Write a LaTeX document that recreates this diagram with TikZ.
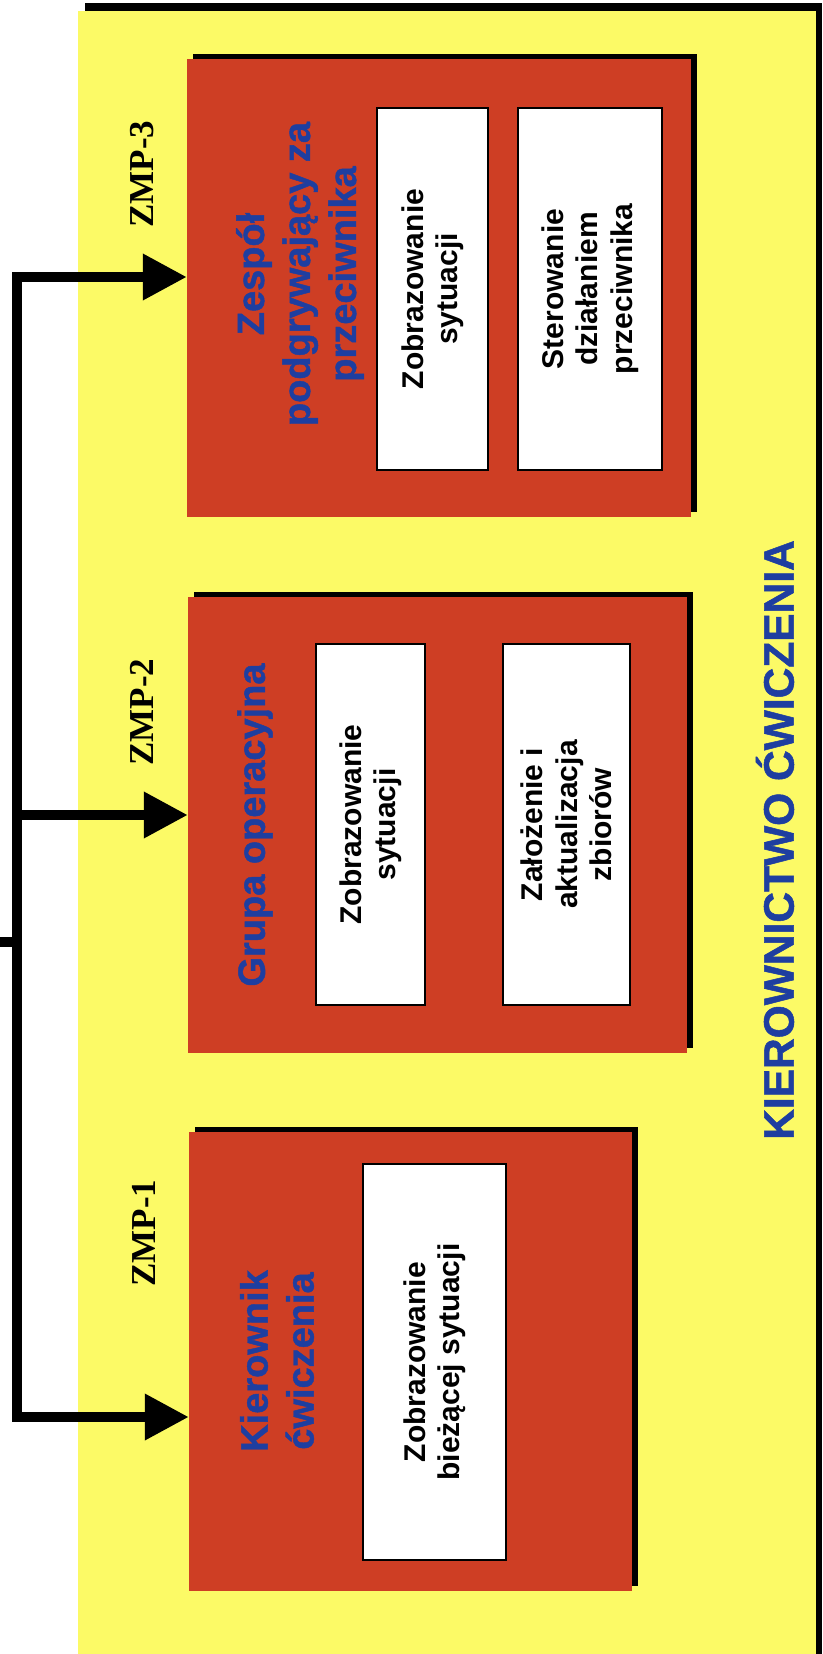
\documentclass[tikz,border=0pt]{standalone}
\usepackage{fontspec}
\setmainfont{Liberation Sans}
\newfontfamily\zmpfont{Liberation Serif}
\newfontfamily\heavyfont[BoldFeatures={FakeBold=1.2}]{Liberation Sans}
\usetikzlibrary{arrows.meta,shadows,calc}
\definecolor{bgyellow}{RGB}{252,250,102}
\definecolor{boxred}{RGB}{206,62,36}
\definecolor{titleblue}{RGB}{30,62,160}
\begin{document}
\begin{tikzpicture}[x=1pt,y=-1pt,
  redbox/.style={fill=boxred, inner sep=0pt,
    general shadow={fill=black, shadow xshift=6pt, shadow yshift=5pt}},
  whitebox/.style={fill=white, draw=black, line width=1.6pt, inner sep=0pt, rotate=90,
    align=center, font=\fontsize{30}{34.5}\selectfont\bfseries},
  titletext/.style={text=titleblue, rotate=90, align=center, inner sep=0pt,
    font=\heavyfont\bfseries\fontsize{38}{46}\selectfont},
  zmp/.style={rotate=90, inner sep=0pt, font=\zmpfont\bfseries\fontsize{35}{40}\selectfont},
  bus/.style={line width=10pt},
  arr/.style={line width=10pt, -{Triangle[length=44pt,width=44pt]}},
  arr2/.style={line width=10pt, {Triangle[length=44pt,width=44pt]}-{Triangle[length=44pt,width=44pt]}},
]
\useasboundingbox (0,0) rectangle (822,1654);
% background and outer frame
\fill[white] (0,0) rectangle (822,1654);
\fill[black] (85,3) rectangle (822,1654);
\fill[bgyellow] (78,11) rectangle (816,1654);

% red boxes
\node[redbox, minimum width=504pt, minimum height=458pt] (box3) at (439,288) {};
\node[redbox, minimum width=499pt, minimum height=456pt] (box2) at (437.5,825) {};
\node[redbox, minimum width=443pt, minimum height=459pt] (box1) at (410.5,1361.5) {};

% titles
\node[titletext] (t3) at (300,274) {Zespół\\podgrywający za\\przeciwnika};
\node[titletext] (t2) at (255,825) {Grupa operacyjna};
\node[titletext] (t1) at (277,1361) {Kierownik\\ćwiczenia};

% white boxes
\node[whitebox, minimum width=362pt, minimum height=111pt] (w31) at (432.5,289) {Zobrazowanie\\sytuacji};
\node[whitebox, minimum width=362pt, minimum height=144pt] (w32) at (590,289) {Sterowanie\\działaniem\\przeciwnika};
\node[whitebox, minimum width=361pt, minimum height=109pt] (w21) at (370.5,824.5) {Zobrazowanie\\sytuacji};
\node[whitebox, minimum width=361pt, minimum height=127pt] (w22) at (566.5,824.5) {Założenie i\\aktualizacja\\zbiorów};
\node[whitebox, minimum width=396pt, minimum height=143pt] (w11) at (434.5,1362) {Zobrazowanie\\bieżącej sytuacji};

% ZMP labels
\node[zmp] (z3) at (142,174) {ZMP-3};
\node[zmp] (z2) at (142,712) {ZMP-2};
\node[zmp] (z1) at (144,1233) {ZMP-1};

% side title
\node[text=titleblue, rotate=90, inner sep=0pt, font=\heavyfont\bfseries\fontsize{42.5}{48}\selectfont] (kier) at (775,840) {KIEROWNICTWO ĆWICZENIA};

% connectors
\coordinate (b3) at (17,277);
\coordinate (b2) at (17,815);
\coordinate (b1) at (17,1417);
\coordinate (in) at (0,942);
\draw[arr2] (b3 -| box3.west) -- (b3) -- (b1) -- (b1 -| box1.west);
\draw[arr] (b2) -- (b2 -| box2.west);
\draw[bus] (in) -- (in -| b2);
\end{tikzpicture}
\end{document}
